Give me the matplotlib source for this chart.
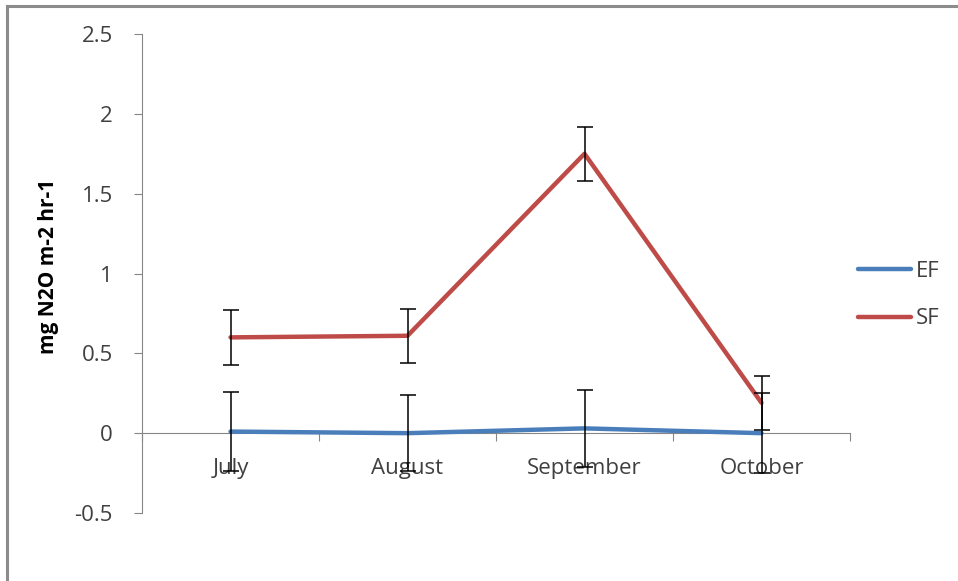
import matplotlib
matplotlib.use("Agg")
import matplotlib.pyplot as plt
from matplotlib.lines import Line2D

months = ["July", "August", "September", "October"]
ef_values = [0.01, 0.0, 0.03, 0.0]
ef_err = [0.25, 0.24, 0.24, 0.25]
sf_values = [0.60, 0.61, 1.75, 0.19]
sf_err = [0.17, 0.17, 0.17, 0.17]
yticks = [-0.5, 0, 0.5, 1, 1.5, 2, 2.5]
ytick_labels = ["-0.5", "0", "0.5", "1", "1.5", "2", "2.5"]

plt.rcParams['font.family'] = ['Open Sans', 'DejaVu Sans']
W, H = 958, 581
fig = plt.figure(figsize=(W / 100, H / 100), dpi=100)
ax = fig.add_axes([142 / W, 1 - 513 / H, (850 - 142) / W, (513 - 34) / H])

x = list(range(len(months)))
blue = "#4A7EBB"
red = "#BE4B48"
ax.plot(x, ef_values, color=blue, lw=3.2, zorder=3, solid_capstyle='round', label="EF")
ax.plot(x, sf_values, color=red, lw=3.2, zorder=3, solid_capstyle='round', label="SF")
ax.errorbar(x, ef_values, yerr=ef_err, fmt='none', ecolor='black', elinewidth=1.1, capsize=5.5, capthick=1.1, zorder=4)
ax.errorbar(x, sf_values, yerr=sf_err, fmt='none', ecolor='black', elinewidth=1.1, capsize=5.5, capthick=1.1, zorder=4)

ax.set_xlim(-0.5, len(months) - 0.5)
ax.set_ylim(-0.5, 2.5)

axis_color = "#868686"
text_color = "#404040"
for s in ['top', 'right']:
    ax.spines[s].set_visible(False)
ax.spines['bottom'].set_position(('data', 0))
ax.spines['bottom'].set_color(axis_color)
ax.spines['left'].set_color(axis_color)

fs = 16
ax.set_yticks(yticks)
ax.set_yticklabels(ytick_labels)
ax.tick_params(axis='y', direction='out', length=6, color=axis_color, labelsize=fs, labelcolor=text_color, pad=15)

ax.set_xticks([i - 0.5 for i in range(len(months) + 1)])
ax.set_xticklabels([])
ax.set_xticks(x, minor=True)
ax.set_xticklabels(months, minor=True)
ax.tick_params(axis='x', which='major', direction='out', length=6, color=axis_color)
ax.tick_params(axis='x', which='minor', length=0, labelsize=fs, labelcolor=text_color, pad=18)

fig.text(49 / W, 1 - 266 / H, "mg N2O m-2 hr-1", rotation=90, ha='center', va='center',
         fontsize=15, fontweight='bold', color='black')

handles = [Line2D([], [], color=blue, lw=3.2, solid_capstyle='round'),
           Line2D([], [], color=red, lw=3.2, solid_capstyle='round')]
fig.legend(handles, ["EF", "SF"], loc='center left', bbox_to_anchor=(858 / W, 1 - 295 / H),
           frameon=False, fontsize=fs, handlelength=2.4, handletextpad=0.2, labelspacing=1.2,
           borderpad=0, borderaxespad=0, labelcolor=text_color)

# outer border (left and top visible)
border = "#8c8c8c"
fig.add_artist(Line2D([7 / W, 7 / W], [0, 1 - 6 / H], color=border, lw=2.2, transform=fig.transFigure))
fig.add_artist(Line2D([7 / W, 1], [1 - 6 / H, 1 - 6 / H], color=border, lw=2.2, transform=fig.transFigure))

fig.savefig("out.png", dpi=100)
